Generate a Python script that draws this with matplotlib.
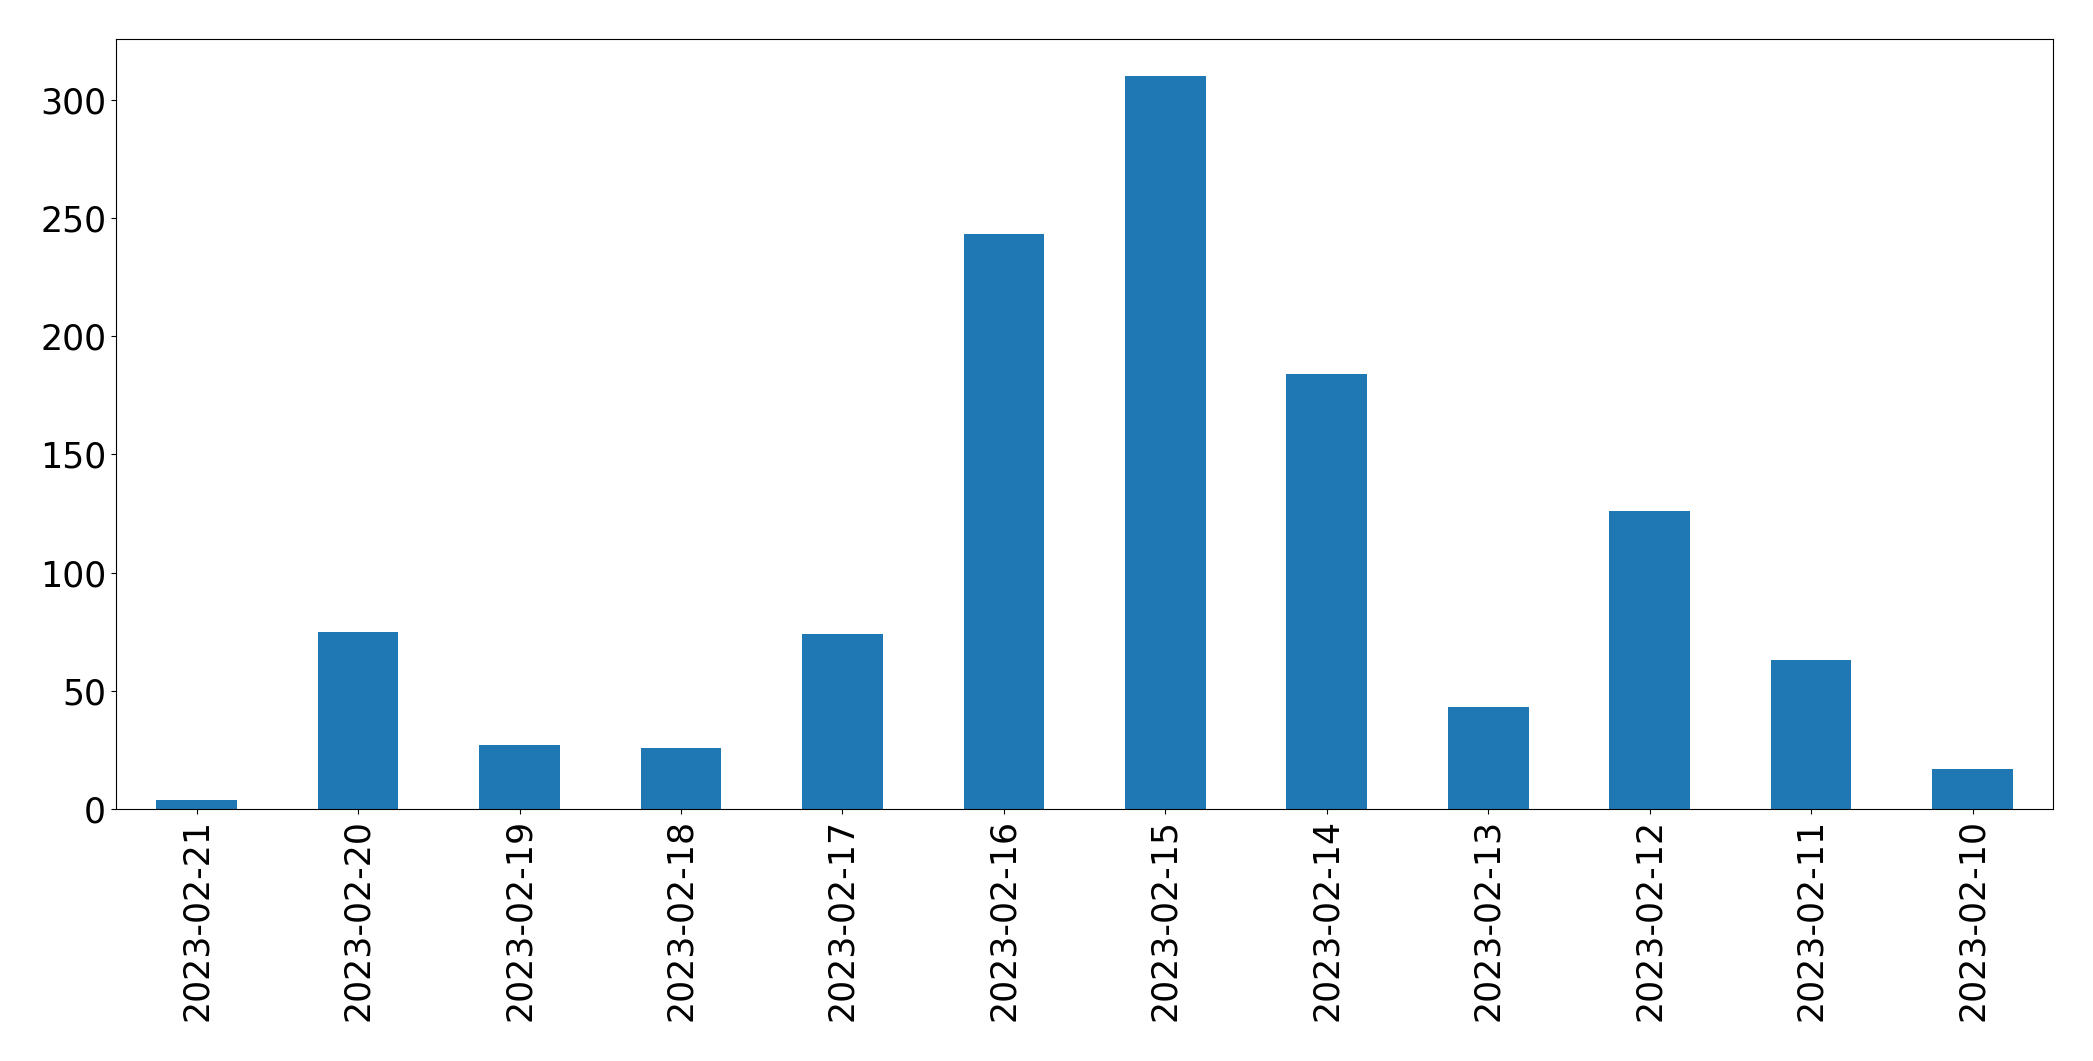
import numpy as np
import matplotlib
matplotlib.use("Agg")
import matplotlib.pyplot as plt

# data (dates in descending order, as in the source)
dates = ["2023-02-21", "2023-02-20", "2023-02-19", "2023-02-18",
         "2023-02-17", "2023-02-16", "2023-02-15", "2023-02-14",
         "2023-02-13", "2023-02-12", "2023-02-11", "2023-02-10"]
counts = [4, 75, 27, 26, 74, 243, 310, 184, 43, 126, 63, 17]

plt.rc('font', family='DejaVu Sans', size=25)

#figure
fig = plt.figure(figsize=(20.93, 10.61), dpi=100, facecolor="white")
ax = fig.add_axes([0.0554, 0.2375, 0.9256, 0.7255])

x = np.arange(len(dates))
ax.bar(x, counts, width=0.5, color="#1f77b4")
ax.set_xlim(-0.5, len(dates) - 0.5)
ax.set_ylim(0, 325.5)
ax.set_xticks(x)
ax.set_xticklabels(dates, rotation=90)
ax.set_yticks([0, 50, 100, 150, 200, 250, 300])

fig.savefig("out.png", dpi=100)
